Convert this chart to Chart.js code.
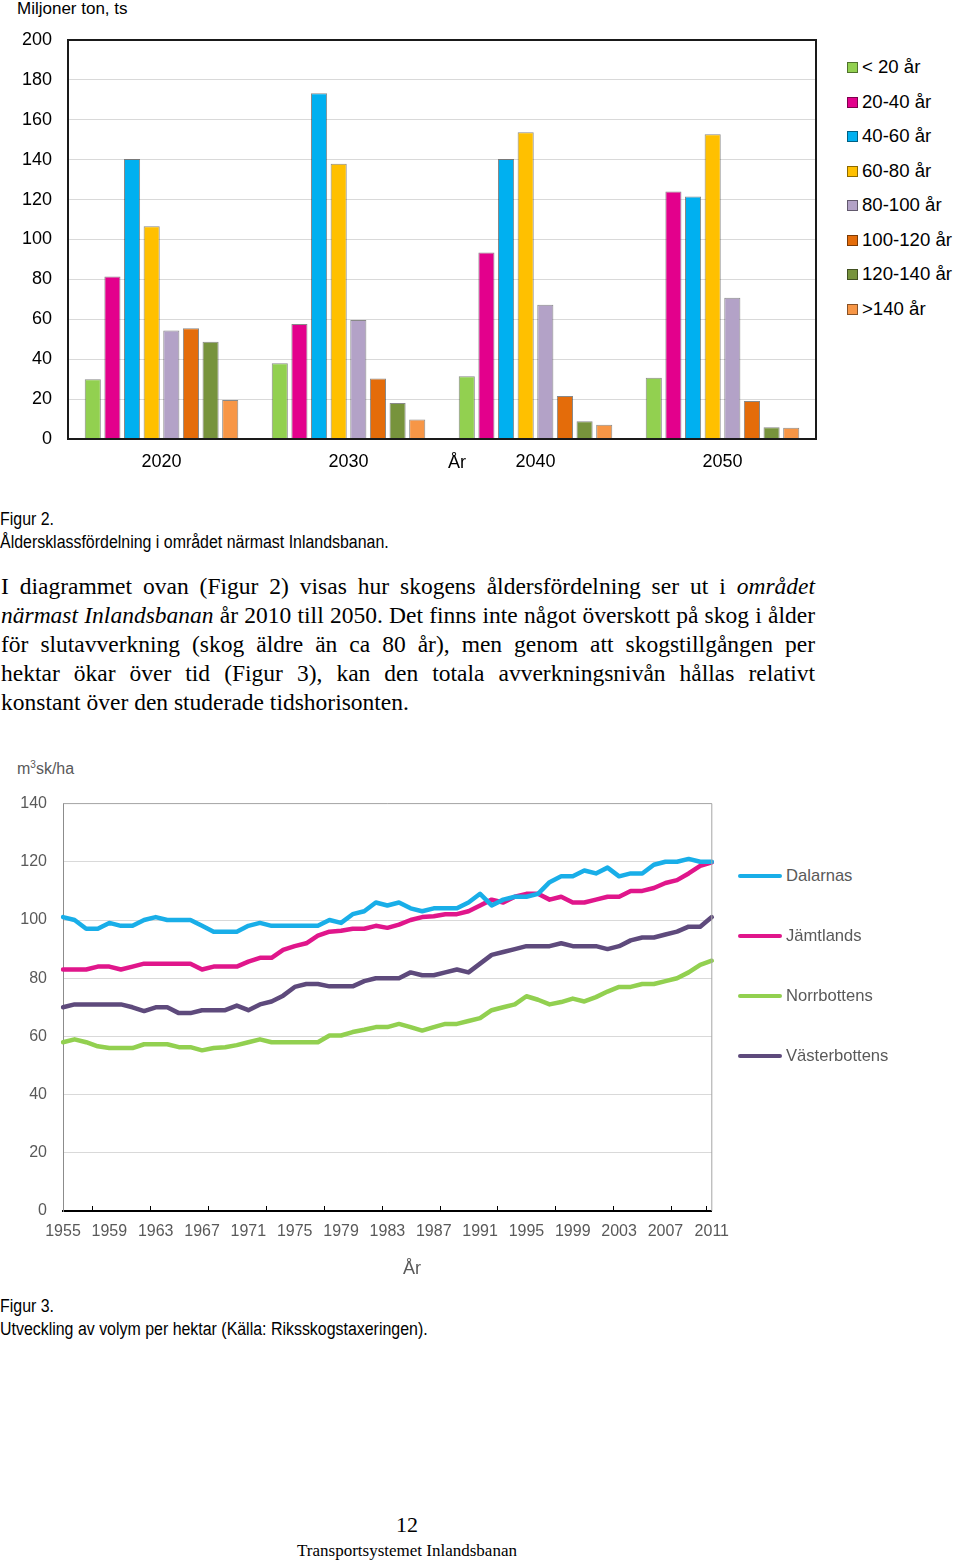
<!DOCTYPE html>
<html>
<head>
<meta charset="utf-8">
<script src="https://cdn.jsdelivr.net/npm/chart.js@4.4.0/dist/chart.umd.min.js"></script>
<style>
    body { margin: 0; background: #fff; width: 960px; height: 1563px; position: relative; overflow: hidden;
           font-family: "Liberation Sans", Arial, sans-serif; color: #000; }
    .abs { position: absolute; white-space: nowrap; }
    .narrow { font-size: 18px; line-height: 23px; transform: scaleX(0.885); transform-origin: 0 0; }
    .serif { font-family: "Liberation Serif", "DejaVu Serif", serif; }
    #body-text { position: absolute; left: 1px; top: 572px; width: 814px; font-size: 23.5px; line-height: 29px; }
    #body-text div { text-align: justify; text-align-last: justify; white-space: nowrap; }
    #body-text div.last { text-align-last: left; }
    .legend-item { position: absolute; font-size: 18.6px; line-height: 22px; white-space: nowrap; }
    .swatch { position: absolute; width: 9px; height: 9px; border: 1px solid rgba(0,0,0,0.45); }
    .line-legend { position: absolute; font-size: 16.6px; line-height: 20px; color: #595959; white-space: nowrap; }
    .line-legend span.ln { position: absolute; left: -48px; top: 8px; width: 44px; height: 4px; border-radius: 2px; }
    sup { font-size: 10px; line-height: 0; vertical-align: 6px; }
</style>
</head>
<body>

<div class="abs" style="left:17px; top:-1px; font-size:17px; line-height:20px;">Miljoner ton, ts</div>
<canvas id="barChart" width="830" height="490" style="position:absolute; left:0; top:0;"></canvas>
<div class="abs" style="left:448px; top:451px; font-size:18px; line-height:22px;">År</div>
<div id="barLegend"></div>

<div class="abs narrow" style="left:0; top:508px;">Figur 2.<br>Åldersklassfördelning i området närmast Inlandsbanan.</div>

<div id="body-text" class="serif">
    <div>I diagrammet ovan (Figur 2) visas hur skogens åldersfördelning ser ut i <i>området</i></div>
    <div><i>närmast Inlandsbanan</i> år 2010 till 2050. Det finns inte något överskott på skog i ålder</div>
    <div>för slutavverkning (skog äldre än ca 80 år), men genom att skogstillgången per</div>
    <div>hektar ökar över tid (Figur 3), kan den totala avverkningsnivån hållas relativt</div>
    <div class="last">konstant över den studerade tidshorisonten.</div>
</div>

<div class="abs" style="left:17px; top:759px; font-size:16px; line-height:20px; color:#595959;">m<sup>3</sup>sk/ha</div>
<canvas id="lineChart" width="740" height="482" style="position:absolute; left:0; top:778px;"></canvas>
<div id="lineLegend"></div>
<div class="abs" style="left:403px; top:1257px; font-size:18px; line-height:22px; color:#595959;">År</div>

<div class="abs narrow" style="left:0; top:1295px;">Figur 3.<br>Utveckling av volym per hektar (Källa: Riksskogstaxeringen).</div>

<div class="abs serif" style="left:0; width:814px; text-align:center; top:1512px; font-size:22px; line-height:26px;">12</div>
<div class="abs serif" style="left:0; width:814px; text-align:center; top:1541px; font-size:17px; line-height:20px;">Transportsystemet Inlandsbanan</div>

<script>
// Figur 2: åldersklasser per år
var barYears = ["2020", "2030", "2040", "2050"];
var ageClasses = ["< 20 år", "20-40 år", "40-60 år", "60-80 år", "80-100 år", "100-120 år", "120-140 år", ">140 år"];

var ageUnder20 = [30, 38, 31.5, 30.7];
var age20to40 = [81.5, 57.7, 93.5, 124];
var age40to60 = [140.4, 173.3, 140.4, 121.5];
var age60to80 = [106.7, 138, 153.8, 152.8];
var age80to100 = [54.4, 59.7, 67.3, 70.8];
var age100to120 = [55.5, 30.3, 21.6, 19.1];
var age120to140 = [48.7, 18, 8.9, 5.9];
var ageOver140 = [19.6, 9.8, 7.1, 5.6];

var barTicks = [0, 20, 40, 60, 80, 100, 120, 140, 160, 180, 200];

// Figur 3: volym per hektar
var years = ["1955", "1956", "1957", "1958", "1959", "1960", "1961", "1962", "1963", "1964",
    "1965", "1966", "1967", "1968", "1969", "1970", "1971", "1972", "1973", "1974",
    "1975", "1976", "1977", "1978", "1979", "1980", "1981", "1982", "1983", "1984",
    "1985", "1986", "1987", "1988", "1989", "1990", "1991", "1992", "1993", "1994",
    "1995", "1996", "1997", "1998", "1999", "2000", "2001", "2002", "2003", "2004",
    "2005", "2006", "2007", "2008", "2009", "2010", "2011"];
var counties = ["Dalarnas", "Jämtlands", "Norrbottens", "Västerbottens"];

var dalarnas = [101, 100, 97, 97, 99, 98, 98, 100, 101, 100,
    100, 100, 98, 96, 96, 96, 98, 99, 98, 98,
    98, 98, 98, 100, 99, 102, 103, 106, 105, 106,
    104, 103, 104, 104, 104, 106, 109, 105, 107, 108,
    108, 109, 113, 115, 115, 117, 116, 118, 115, 116,
    116, 119, 120, 120, 121, 120, 120];
var jamtlands = [83, 83, 83, 84, 84, 83, 84, 85, 85, 85,
    85, 85, 83, 84, 84, 84, 85.7, 87, 87, 89.7,
    91, 92, 94.6, 96, 96.3, 97, 97, 98, 97.3, 98.4,
    100, 101, 101.3, 102, 102, 103, 105, 107, 106, 108,
    109, 109, 107, 108, 106, 106, 107, 108, 108, 110,
    110, 111, 112.7, 113.7, 116, 118.6, 119.8];
var norrbottens = [58, 59, 58, 56.6, 56, 56, 56, 57.3, 57.3, 57.3,
    56.3, 56.3, 55.2, 56, 56.3, 57, 58, 59, 58, 58,
    58, 58, 58, 60.3, 60.3, 61.5, 62.3, 63.2, 63.2, 64.3,
    63.2, 62, 63.2, 64.3, 64.3, 65.3, 66.3, 69, 70, 71,
    73.8, 72.6, 71, 71.8, 73, 72, 73.5, 75.4, 77, 77,
    78, 78, 79, 80, 82, 84.6, 86];
var vasterbottens = [70, 71, 71, 71, 71, 71, 70, 68.7, 70, 70,
    68, 68, 69, 69, 69, 70.6, 69, 71, 72, 74,
    77, 78, 78, 77.2, 77.2, 77.2, 79, 80, 80, 80,
    82, 81, 81, 82, 83, 82, 85, 88, 89, 90,
    91, 91, 91, 92, 91, 91, 91, 90, 91, 93,
    94, 94, 95, 96, 97.7, 97.7, 101];

var lineTicks = [0, 20, 40, 60, 80, 100, 120, 140];

var barColors = ["#92D050", "#E3008C", "#00B0F0", "#FFC000", "#B3A2C7", "#E46C0A", "#77933C", "#F79646"];
var lineColors = ["#19AEE8", "#E0168B", "#92D050", "#5E4A7C"];

var LABEL_FONT = "'Liberation Sans', Arial, sans-serif";

// ram runt plotytan
var framePlugin = {
    id: 'frame',
    afterDatasetsDraw: function (chart, args, opts) {
        var a = chart.chartArea;
        var c = chart.ctx;
        c.save();
        c.strokeStyle = opts.color;
        c.lineWidth = opts.width;
        c.beginPath();
        if (opts.full) {
            c.rect(a.left, a.top, a.right - a.left, a.bottom - a.top);
        } else {
            c.moveTo(a.left, a.top);
            c.lineTo(a.right, a.top);
            c.lineTo(a.right, a.bottom);
        }
        c.stroke();
        c.restore();
    }
};

// små streck på x-axeln (uppåt, som i Excel)
var tickMarks = {
    id: 'tickMarks',
    afterDraw: function (chart, args, opts) {
        if (!opts.show) return;
        var x = chart.scales.x;
        var bottom = chart.chartArea.bottom;
        var c = chart.ctx;
        var pos = [];
        for (var k = 2.5; k < years.length - 1; k += 5) pos.push(k);
        pos.push(years.length - 1.5);
        c.save();
        c.strokeStyle = '#000';
        c.lineWidth = 1;
        c.beginPath();
        pos.forEach(function (p) {
            var px = Math.round(x.getPixelForValue(p)) + 0.5;
            c.moveTo(px, bottom);
            c.lineTo(px, bottom - 5);
        });
        c.stroke();
        c.restore();
    }
};

var barSeries = [ageUnder20, age20to40, age40to60, age60to80, age80to100, age100to120, age120to140, ageOver140];
var barDatasets = [];
for (var i = 0; i < barSeries.length; i++) {
    barDatasets.push({
        label: ageClasses[i],
        data: barSeries[i],
        backgroundColor: barColors[i],
        borderColor: 'rgba(40,40,40,0.55)',
        borderWidth: 1,
        categoryPercentage: 0.84,
        barPercentage: 0.82
    });
}

new Chart(document.getElementById('barChart'), {
    type: 'bar',
    data: {labels: barYears, datasets: barDatasets},
    options: {
        responsive: false,
        animation: false,
        layout: {padding: {top: 40, right: 14, left: 0, bottom: 0}},
        plugins: {
            legend: {display: false},
            tooltip: {enabled: false},
            frame: {color: '#1a1a1a', width: 2, full: true}
        },
        scales: {
            x: {
                grid: {display: false, drawTicks: false},
                border: {display: false},
                ticks: {color: '#000', font: {family: LABEL_FONT, size: 18}, padding: 12},
                afterFit: function (s) { s.height = 51; }
            },
            y: {
                min: 0,
                max: 200,
                afterBuildTicks: function (s) { s.ticks = barTicks.map(function (v) { return {value: v}; }); },
                grid: {color: '#d9d9d9', lineWidth: 1, drawTicks: false},
                border: {display: false},
                ticks: {color: '#000', font: {family: LABEL_FONT, size: 18}, padding: 16},
                afterFit: function (s) { s.width = 68; }
            }
        }
    },
    plugins: [framePlugin]
});

var lineSeries = [dalarnas, jamtlands, norrbottens, vasterbottens];
var lineDatasets = [];
for (var j = 0; j < lineSeries.length; j++) {
    lineDatasets.push({
        label: counties[j],
        data: lineSeries[j],
        borderColor: lineColors[j],
        backgroundColor: lineColors[j],
        borderWidth: 4.5,
        pointRadius: 0,
        tension: 0,
        fill: false,
        borderJoinStyle: 'round',
        borderCapStyle: 'round'
    });
}

new Chart(document.getElementById('lineChart'), {
    type: 'line',
    data: {labels: years, datasets: lineDatasets},
    options: {
        responsive: false,
        animation: false,
        layout: {padding: {top: 1, right: 26, left: 0, bottom: 0}},
        plugins: {
            legend: {display: false},
            tooltip: {enabled: false},
            frame: {color: '#a6a6a6', width: 1, full: false},
            tickMarks: {show: true}
        },
        scales: {
            x: {
                offset: false,
                grid: {display: false, drawTicks: false},
                border: {display: true, color: '#000', width: 2},
                ticks: {
                    color: '#595959',
                    font: {family: LABEL_FONT, size: 16},
                    padding: 11,
                    autoSkip: false,
                    maxRotation: 0,
                    callback: function (v, idx) { return idx % 4 === 0 ? years[idx] : ''; }
                },
                afterFit: function (s) { s.height = 49; }
            },
            y: {
                min: 0,
                max: 140,
                afterBuildTicks: function (s) { s.ticks = lineTicks.map(function (v) { return {value: v}; }); },
                grid: {color: '#d9d9d9', lineWidth: 1, drawTicks: false},
                border: {display: true, color: '#8c8c8c', width: 1},
                ticks: {color: '#595959', font: {family: LABEL_FONT, size: 16}, padding: 16},
                afterFit: function (s) { s.width = 63; }
            }
        }
    },
    plugins: [framePlugin, tickMarks]
});

// legender
var barLegend = document.getElementById('barLegend');
for (var a = 0; a < ageClasses.length; a++) {
    var itemTop = 56 + a * 34.5;
    var item = document.createElement('div');
    item.className = 'legend-item';
    item.style.left = '862px';
    item.style.top = itemTop + 'px';
    item.textContent = ageClasses[a];
    barLegend.appendChild(item);
    var sw = document.createElement('div');
    sw.className = 'swatch';
    sw.style.left = '847px';
    sw.style.top = (itemTop + 6) + 'px';
    sw.style.background = barColors[a];
    barLegend.appendChild(sw);
}

var lineLegend = document.getElementById('lineLegend');
for (var b = 0; b < counties.length; b++) {
    var li = document.createElement('div');
    li.className = 'line-legend';
    li.style.left = '786px';
    li.style.top = (866 + b * 60) + 'px';
    li.innerHTML = '<span class="ln" style="background:' + lineColors[b] + '"></span>' + counties[b];
    lineLegend.appendChild(li);
}
</script>
</body>
</html>
